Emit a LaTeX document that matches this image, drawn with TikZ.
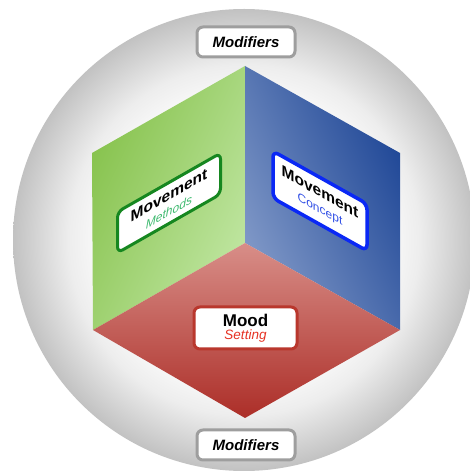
\documentclass[tikz,border=0pt]{standalone}
\usepackage{fontspec}
\setmainfont{Liberation Sans}
\definecolor{gl}{RGB}{134,194,76}
\definecolor{gr}{RGB}{192,230,162}
\definecolor{bl}{RGB}{130,154,200}
\definecolor{br}{RGB}{30,70,150}
\definecolor{rt}{RGB}{216,142,136}
\definecolor{rb}{RGB}{172,46,40}
\definecolor{mgreen}{RGB}{22,135,32}
\definecolor{methodtext}{RGB}{60,185,110}
\definecolor{cblue}{RGB}{10,40,245}
\definecolor{concepttext}{RGB}{50,80,230}
\definecolor{moodborder}{RGB}{185,55,45}
\definecolor{settingtext}{RGB}{230,50,35}
\pgfdeclareradialshading{sphereshade}{\pgfpoint{0bp}{0bp}}{color(0bp)=(white); color(14bp)=(white); color(19bp)=(black!7); color(25bp)=(black!24); color(50bp)=(black!24)}
\begin{document}
\begin{tikzpicture}[x=1pt,y=1pt,
  box/.style={draw, fill=white, rounded corners=6pt, line width=3pt, align=center, inner sep=0pt},
  modbox/.style={box, draw=black!38, minimum width=98pt, minimum height=30pt, font=\fontsize{15}{17}\selectfont\bfseries\itshape}
]
\useasboundingbox (0,0) rectangle (470,471);
\clip (0,0) rectangle (470,471);
\fill[white] (0,0) rectangle (470,471);
\shade[shading=sphereshade] (244,231) circle[radius=231];
\coordinate (T) at (245,405);
\coordinate (L1) at (92,318);
\coordinate (R1) at (400,318);
\coordinate (C) at (245,228);
\coordinate (L2) at (93,141);
\coordinate (R2) at (400,141);
\coordinate (B) at (245,53);
\shade[top color=gl, bottom color=gr, shading angle=65] (T) -- (L1) -- (L2) -- (C) -- cycle;
\shade[top color=bl, bottom color=br, shading angle=115] (T) -- (R1) -- (R2) -- (C) -- cycle;
\shade[top color=rt, bottom color=rb] (C) -- (L2) -- (B) -- (R2) -- cycle;
\node[modbox] (modtop) at (246,429) {Modifiers};
\node[modbox] (modbot) at (246,26) {Modifiers};
\begin{scope}[shift={(169,268)}, yslant=0.57]
\node[box, draw=mgreen, transform shape, minimum width=103pt, minimum height=41pt] (methods) at (0,0)
  {{\fontsize{15.5}{14}\selectfont\bfseries Movement}\\[4pt]{\fontsize{12}{12}\selectfont\itshape\color{methodtext}Methods}};
\end{scope}
\begin{scope}[shift={(320,270)}, yslant=-0.56]
\node[box, draw=cblue, line width=3.5pt, transform shape, minimum width=94pt, minimum height=47pt] (concept) at (0,0)
  {{\fontsize{15.5}{14}\selectfont\bfseries Movement}\\[4pt]{\fontsize{12}{12}\selectfont\color{concepttext}Concept}};
\end{scope}
\node[box, draw=moodborder, minimum width=103pt, minimum height=42pt] (mood) at (245.5,143)
  {{\fontsize{17}{14}\selectfont\bfseries Mood}\\[1pt]{\fontsize{13.5}{13}\selectfont\itshape\color{settingtext}Setting}};
\end{tikzpicture}
\end{document}
